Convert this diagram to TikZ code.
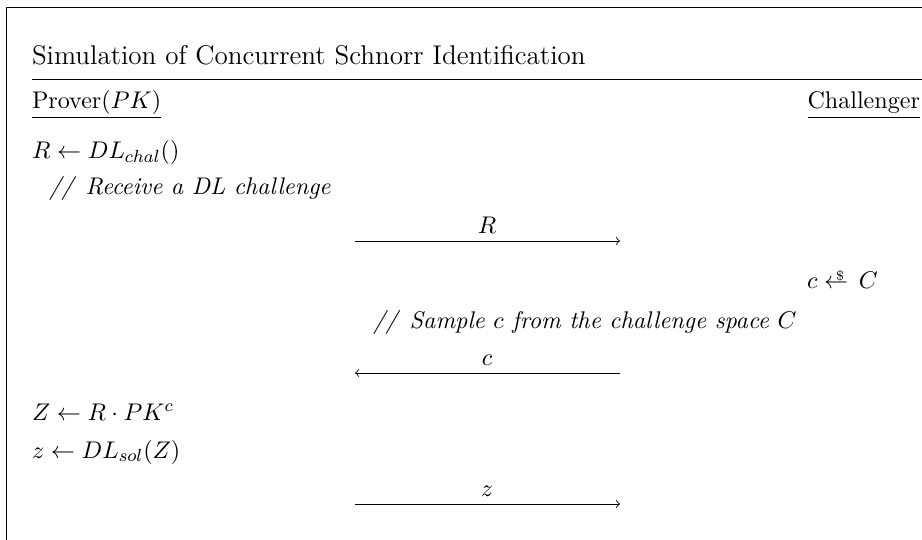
\documentclass[tikz,border=0pt]{standalone}
\usetikzlibrary{calc}
\newcommand{\smplarrow}{\mathrel{\leftarrow\mkern-14mu\raisebox{.75\height}{$\scriptscriptstyle\$$}\mkern6mu}}
\begin{document}
\begin{tikzpicture}[x=0.4545pt,y=-0.4545pt,
  every node/.style={inner sep=0pt,outer sep=0pt,font=\fontsize{10.95}{13.6}\selectfont},
  txt/.style={anchor=base west},
  lab/.style={anchor=base},
  msg/.style={->,line width=0.4pt},
  rule/.style={line width=0.4pt}]
\useasboundingbox (0,0) rectangle (922,540);
\clip (0,0) rectangle (922,540);
% frame (only its left and top sides are visible)
\draw[rule] (6,900) -- (6,7) -- (1200,7);
% title
\node[txt,font=\fontsize{12.3}{14.8}\selectfont] (title) at (32,65) {Simulation of Concurrent Schnorr Identification};
\coordinate (ruleL) at (32,79);
\coordinate (ruleR) at (1200,79);
\draw[rule] (ruleL) -- (ruleR);
% parties
\node[txt] (prover) at (32,109) {Prover($PK$)};
\node[anchor=base east] (chal) at (920,109) {Challenger};
\coordinate (ul) at (0,117);
\draw[rule] (prover.west |- ul) -- (prover.east |- ul);
\draw[rule] (chal.west |- ul) -- (chal.east |- ul);
% prover step 1
\node[txt] (r1) at (32,159) {$R \leftarrow DL_{chal}()$};
\node[txt] (cm1) at (49,195) {\textit{//\enspace Receive a DL challenge}};
% message R
\coordinate (a1s) at (355,241);
\coordinate (a1e) at (620,241);
\draw[msg] (a1s) -- (a1e);
\node[lab] (Rlab) at (487,233) {$R$};
% challenger step
\node[txt] (cc) at (807,288) {$c \smplarrow C$};
\node[txt] (cm2) at (373,328) {\textit{//\enspace Sample $c$ from the challenge space $C$}};
% message c
\coordinate (a2s) at (620,373);
\coordinate (a2e) at (355,373);
\draw[msg] (a2s) -- (a2e);
\node[lab] (clab) at (487,365) {$c$};
% prover step 2
\node[txt] (Z) at (32,420) {$Z \leftarrow R \cdot PK^{c}$};
\node[txt] (zl) at (32,458) {$z \leftarrow DL_{sol}(Z)$};
% message z
\coordinate (a3s) at (355,504);
\coordinate (a3e) at (620,504);
\draw[msg] (a3s) -- (a3e);
\node[lab] (zlab) at (487,496) {$z$};
\end{tikzpicture}
\end{document}
